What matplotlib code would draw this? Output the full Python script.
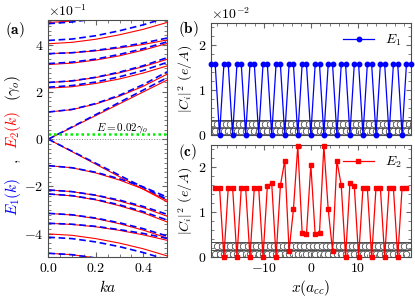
import numpy as np
import matplotlib.pyplot as plt
from matplotlib.ticker import AutoMinorLocator

plt.rcParams['font.family'] = 'serif'
plt.rcParams['font.serif'] = ['cmr10']
plt.rcParams['mathtext.fontset'] = 'cm'
plt.rcParams['axes.formatter.use_mathtext'] = True
plt.rcParams['font.size'] = 10

# band structure, energies in units of gamma_o
k = [0.0, 0.1, 0.2, 0.3, 0.4, 0.5]

e1_bands = [
    [0.0, 0.052, 0.104, 0.156, 0.208, 0.26],
    [0.115, 0.126, 0.151, 0.186, 0.231, 0.285],
    [0.22, 0.227, 0.242, 0.264, 0.291, 0.325],
    [0.24, 0.247, 0.262, 0.284, 0.311, 0.345],
    [0.32, 0.326, 0.339, 0.359, 0.383, 0.412],
    [0.362, 0.366, 0.376, 0.39, 0.407, 0.428],
    [0.418, 0.424, 0.438, 0.459, 0.484, 0.515],
    [0.489, 0.496, 0.51, 0.531, 0.558, 0.59],
    [0.0, -0.051, -0.102, -0.153, -0.204, -0.255],
    [-0.112, -0.121, -0.14, -0.168, -0.202, -0.245],
    [-0.215, -0.222, -0.237, -0.258, -0.285, -0.318],
    [-0.232, -0.239, -0.255, -0.278, -0.307, -0.342],
    [-0.314, -0.32, -0.334, -0.354, -0.379, -0.41],
    [-0.356, -0.36, -0.369, -0.383, -0.399, -0.42],
    [-0.415, -0.421, -0.435, -0.455, -0.48, -0.51],
    [-0.483, -0.489, -0.503, -0.524, -0.549, -0.58],
]

e2_bands = [
    [0.0, 0.05, 0.1, 0.15, 0.2, 0.25],
    [0.115, 0.125, 0.149, 0.182, 0.224, 0.275],
    [0.216, 0.222, 0.236, 0.255, 0.28, 0.31],
    [0.24, 0.246, 0.261, 0.281, 0.307, 0.338],
    [0.316, 0.322, 0.335, 0.353, 0.377, 0.405],
    [0.362, 0.366, 0.374, 0.386, 0.401, 0.42],
    [0.404, 0.41, 0.423, 0.442, 0.465, 0.494],
    [0.494, 0.5, 0.512, 0.53, 0.552, 0.58],
    [0.0, -0.053, -0.106, -0.159, -0.212, -0.265],
    [-0.112, -0.121, -0.143, -0.173, -0.211, -0.258],
    [-0.215, -0.222, -0.238, -0.262, -0.29, -0.326],
    [-0.232, -0.24, -0.257, -0.282, -0.312, -0.35],
    [-0.314, -0.321, -0.336, -0.358, -0.385, -0.418],
    [-0.356, -0.361, -0.371, -0.386, -0.405, -0.428],
    [-0.401, -0.407, -0.421, -0.44, -0.464, -0.494],
    [-0.483, -0.489, -0.503, -0.524, -0.549, -0.58],
]

e_level = 0.02

# charge density on the sites, x in units of a_cc
site_step = 0.93
x_b = np.arange(-23, 24) * site_step
c_b = [0.0157, 0.0157, 0.0] * 15 + [0.0157, 0.0157]

x_c = np.arange(-22, 23) * site_step
c_c = [0.0155, 0.0155, 0.0, 0.0155, 0.0155, 0.0, 0.0155, 0.0155, 0.0,
       0.0155, 0.0155, 0.0, 0.0159, 0.0165, 0.0, 0.016, 0.0215, 0.0014,
       0.0107, 0.0248, 0.0055, 0.0051, 0.0206, 0.0051, 0.0055, 0.0248,
       0.0107, 0.0014, 0.0215, 0.016, 0.0, 0.0165, 0.0159, 0.0, 0.0155,
       0.0155, 0.0, 0.0155, 0.0155, 0.0, 0.0155, 0.0155, 0.0, 0.0155, 0.0155]

fig = plt.figure(figsize=(4.15, 2.99), dpi=100)
ax_a = fig.add_axes([0.1164, 0.1395, 0.286, 0.794])
ax_b = fig.add_axes([0.508, 0.5485, 0.4825, 0.3756])
ax_c = fig.add_axes([0.508, 0.1395, 0.4825, 0.3756])

# (a)
for band in e2_bands:
    ax_a.plot(k, band, color='red', lw=0.8)
for band in e1_bands:
    ax_a.plot(k, band, color='blue', lw=1.2, ls=(0, (4, 2.2)))
ax_a.axhline(0, color='0.5', lw=0.7, ls=':')
ax_a.axhline(e_level, color='#00ee00', lw=1.8, ls=(0, (1, 1.2)))
ax_a.text(0.31, 0.048, r'$E=0.02\gamma_o$', fontsize=8, ha='center', va='center')
ax_a.set_xlim(0, 0.5)
ax_a.set_ylim(-0.5, 0.505)
ax_a.set_xticks([0, 0.2, 0.4])
ax_a.set_yticks([-0.4, -0.2, 0, 0.2, 0.4])
ax_a.ticklabel_format(axis='y', style='sci', scilimits=(-1, -1), useMathText=True)
ax_a.set_xlabel(r'$ka$', fontsize=11, labelpad=3)
ax_a.xaxis.set_minor_locator(AutoMinorLocator(4))
ax_a.yaxis.set_minor_locator(AutoMinorLocator(10))


def lattice(ax, xs):
    ax.axhline(0.0033, color='0.3', lw=0.7, zorder=1)
    ax.axhline(0.00165, color='0.3', lw=0.7, zorder=1)
    ax.plot(xs + site_step / 2, np.full(len(xs), 0.0025), 'o', ms=4.6,
            mfc='white', mec='0.3', mew=0.6, zorder=1)
    ax.plot(xs, np.full(len(xs), 0.0008), 'o', ms=4.6,
            mfc='white', mec='0.3', mew=0.6, zorder=1)


lattice(ax_b, x_b)
ax_b.plot(x_b, c_b, color='blue', lw=0.9, marker='o', ms=3.2,
          label=r'$E_1$', zorder=3, clip_on=False)
lattice(ax_c, x_c)
ax_c.plot(x_c, c_c, color='red', lw=0.9, marker='s', ms=2.8,
          label=r'$E_2$', zorder=3, clip_on=False)

for ax in (ax_b, ax_c):
    ax.set_xlim(-21.4, 21.45)
    ax.set_ylim(0, 0.025)
    ax.set_xticks([-10, 0, 10])
    ax.set_yticks([0, 0.01, 0.02])
    ax.ticklabel_format(axis='y', style='sci', scilimits=(-2, -2), useMathText=True)
    ax.xaxis.set_minor_locator(AutoMinorLocator(5))
    ax.yaxis.set_minor_locator(AutoMinorLocator(5))
    ax.set_ylabel(r'$|C_i|^2$ $(e/A)$', fontsize=10, labelpad=2)
    ax.legend(loc='upper right', frameon=False, fontsize=10,
              handlelength=2.2, borderaxespad=0.3)

ax_b.set_xticklabels([])
ax_c.yaxis.get_offset_text().set_visible(False)
ax_c.set_xlabel(r'$x(a_{cc})$', fontsize=11, labelpad=2)

for ax in (ax_a, ax_b, ax_c):
    ax.tick_params(which='both', direction='in', top=True, right=True,
                   color='0.4', labelsize=10)
    ax.tick_params(which='major', length=3.5)
    ax.tick_params(which='minor', length=2)
    for s in ax.spines.values():
        s.set_color('0.3')
        s.set_linewidth(0.8)

# multi-coloured y label of (a)
fig.text(13 / 415, 1 - 197 / 299, r'$E_1(k)$', color='blue', rotation=90,
         ha='center', va='center', fontsize=11)
fig.text(13 / 415, 1 - 160 / 299, ',', rotation=90,
         ha='center', va='center', fontsize=11)
fig.text(13 / 415, 1 - 130 / 299, r'$E_2(k)$', color='red', rotation=90,
         ha='center', va='center', fontsize=11)
fig.text(13 / 415, 1 - 88 / 299, r'$(\gamma_o)$', rotation=90,
         ha='center', va='center', fontsize=11)

fig.text(15 / 415, 1 - 30 / 299, r'$\mathbf{(a)}$', ha='center', va='center', fontsize=11)
fig.text(188 / 415, 1 - 29 / 299, r'$\mathbf{(b)}$', ha='center', va='center', fontsize=11)
fig.text(188 / 415, 1 - 152 / 299, r'$\mathbf{(c)}$', ha='center', va='center', fontsize=11)

fig.savefig('out.png', dpi=100)
